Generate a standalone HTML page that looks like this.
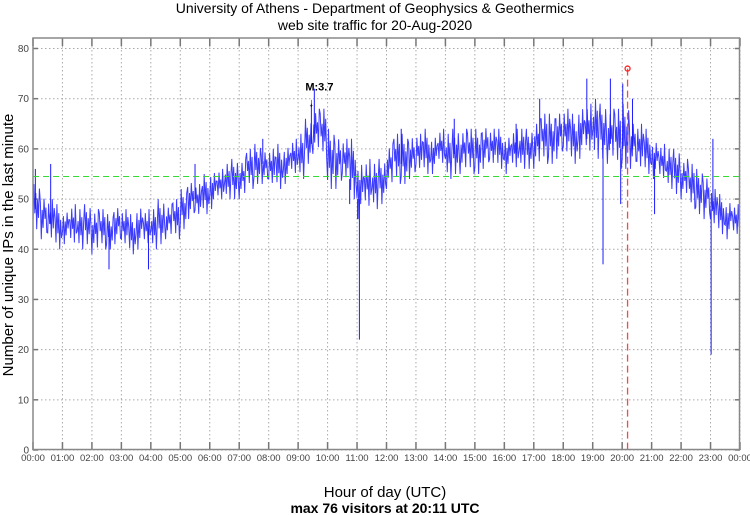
<!DOCTYPE html>
<html><head><meta charset="utf-8"><style>
body{margin:0;background:#fff;width:750px;height:515px;overflow:hidden;font-family:"Liberation Sans",sans-serif}
svg{display:block}
</style></head><body>
<svg id="chart" width="750" height="515" xmlns="http://www.w3.org/2000/svg">
<text x="375" y="13" text-anchor="middle" font-size="14" fill="#000">University of Athens - Department of Geophysics &amp; Geothermics</text>
<text x="375" y="30" text-anchor="middle" font-size="14" fill="#000">web site traffic for 20-Aug-2020</text>
<text x="385" y="497" text-anchor="middle" font-size="15" fill="#000">Hour of day (UTC)</text>
<text x="385" y="513" text-anchor="middle" font-size="14" font-weight="bold" fill="#000">max 76 visitors at 20:11 UTC</text>
<text transform="translate(13,245) rotate(-90)" text-anchor="middle" font-size="15" fill="#000">Number of unique IPs in the last minute</text>
<g id="grid"></g><g id="series"></g><g id="overlay"></g>
<rect x="33" y="38" width="706.5" height="411.5" fill="none" stroke="#888" stroke-width="1.5"/>
</svg>
<script>
const yTicks=[0,10,20,30,40,50,60,70,80];
const xTickLabels=["00:00","01:00","02:00","03:00","04:00","05:00","06:00","07:00","08:00","09:00","10:00","11:00","12:00","13:00","14:00","15:00","16:00","17:00","18:00","19:00","20:00","21:00","22:00","23:00","00:00"];
// quarter-hour envelope (low/high) of unique IPs
const binLow=[44,42,41,40, 41,40,40,41, 39,40,40,41, 40,39,40,40, 40,41,42,42, 44,46,46,47, 48,49,50,50, 50,52,53,53, 52,52,53,54, 54,57,59,58, 52,52,53,50, 46,47,48,49, 52,53,53,54, 55,55,55,56, 54,55,55,55, 55,56,56,56, 55,55,56,56, 56,57,57,58, 58,57,58,58, 58,58,57,56, 56,56,55,55, 54,53,52,51, 50,48,47,46, 44,43,42,42];
const binHigh=[53,51,50,49, 48,49,48,49, 48,48,47,49, 48,47,49,48, 48,50,49,50, 52,54,53,55, 56,56,57,58, 58,60,61,60, 60,61,61,62, 63,66,68,68, 64,63,62,62, 58,58,57,58, 61,63,63,63, 63,64,63,64, 63,64,64,64, 64,65,64,64, 63,64,64,64, 66,67,67,68, 68,67,69,69, 70,69,68,68, 69,66,65,64, 62,61,60,60, 58,57,56,55, 52,51,50,49];
const spikeHours=[0.08,0.6,2.58,3.92,5.5,7.8,9.45,9.55,10.75,11.02,11.08,12.5,14.3,16.4,17.2,18.8,19.35,19.6,19.95,20.02,20.35,21.1,23.02,23.08];
const spikeValues=[56,57,36,36,57,62,69,72,49,46,22,64,66,65,70,74,37,74,49,73,70,47,19,62];
const maxHour=20+11/60, maxValue=76, meanValue=54.5, quakeHour=9.45, quakeLabel="M:3.7";

const NS="http://www.w3.org/2000/svg";
const X0=33,X1=740,Y0=450,YTOP=48.5;
const xS=h=>X0+h*(X1-X0)/24;
const yS=v=>Y0-v*(Y0-YTOP)/80;
function mk(tag,attrs,parent){const e=document.createElementNS(NS,tag);for(const k in attrs)e.setAttribute(k,attrs[k]);parent.appendChild(e);return e;}
const grid=document.getElementById('grid'),series=document.getElementById('series'),ov=document.getElementById('overlay');
yTicks.forEach(v=>{
  const l=mk('line',{x1:X0,x2:X1,y1:yS(v),y2:yS(v),stroke:'#aaa','stroke-dasharray':'1.5,2.5'},grid);
  
  
  mk('line',{x1:X0,x2:X0+5,y1:yS(v),y2:yS(v),stroke:'#777','stroke-width':1.5},grid);
  mk('line',{x1:X1-5,x2:X1,y1:yS(v),y2:yS(v),stroke:'#777','stroke-width':1.5},grid);
  const t=mk('text',{x:X0-4,y:yS(v)+3.5,'text-anchor':'end','font-size':10,fill:'#444'},grid);
  t.textContent=v;
  
  
});
xTickLabels.forEach((s,i)=>{
  const x=xS(i);
  const l=mk('line',{x1:x,x2:x,y1:38,y2:Y0,stroke:'#aaa','stroke-dasharray':'1.5,2.5'},grid);
  
  
  mk('line',{x1:x,x2:x,y1:Y0-8,y2:Y0,stroke:'#777','stroke-width':1.5},grid);
  mk('line',{x1:x,x2:x,y1:38,y2:46,stroke:'#777','stroke-width':1.5},grid);
  const t=mk('text',{x:x,y:461,'text-anchor':'middle','font-size':9.5,fill:'#444'},grid);
  t.textContent=s;
  
  
});
// traffic series: zigzag through each quarter-hour envelope (fixed drawing pattern)
const pattern=[0.15,1,0.35,0.8,0,0.65,0.25,0.9,0.45,0.7];
let d='';const steps=8;
binLow.forEach((lo,i)=>{
  const hi=binHigh[i];
  for(let k=0;k<steps;k++){
    const h=(i+k/steps)/4;
    const f=pattern[(k+i*3)%pattern.length];
    const v=lo+(hi-lo)*f;
    d+=(d?'L':'M')+xS(h).toFixed(1)+','+yS(v).toFixed(1);
  }
});
const p=mk('path',{d:d,fill:'none',stroke:'#1a1aff','stroke-width':1,'stroke-opacity':0.85},series);


spikeHours.forEach((h,i)=>{
  const base=binLow[Math.min(95,Math.floor(h*4))]+4;
  const s=mk('line',{x1:xS(h),x2:xS(h),y1:yS(base),y2:yS(spikeValues[i]),stroke:'#1a1aff','stroke-width':1},series);
  
  
});
const mean=mk('line',{x1:X0,x2:X1,y1:yS(meanValue),y2:yS(meanValue),stroke:'#33dd33','stroke-width':1,'stroke-dasharray':'6,4'},ov);


const mx=mk('line',{x1:xS(maxHour),x2:xS(maxHour),y1:yS(maxValue),y2:Y0,stroke:'#ff4444','stroke-width':1.3,'stroke-dasharray':'7,4'},ov);


const c=mk('circle',{cx:xS(maxHour),cy:yS(maxValue),r:2.5,fill:'none',stroke:'#ff2222','stroke-width':1.3},ov);


const qt=mk('text',{x:xS(quakeHour)+8,y:yS(71)-3,'text-anchor':'middle','font-size':11,'font-weight':'bold',fill:'#000'},ov);
qt.textContent=quakeLabel;


const qa=mk('text',{x:xS(quakeHour),y:yS(68)-2,'text-anchor':'middle','font-size':12,fill:'#000'},ov);
qa.textContent='↓';


</script>
</body></html>
